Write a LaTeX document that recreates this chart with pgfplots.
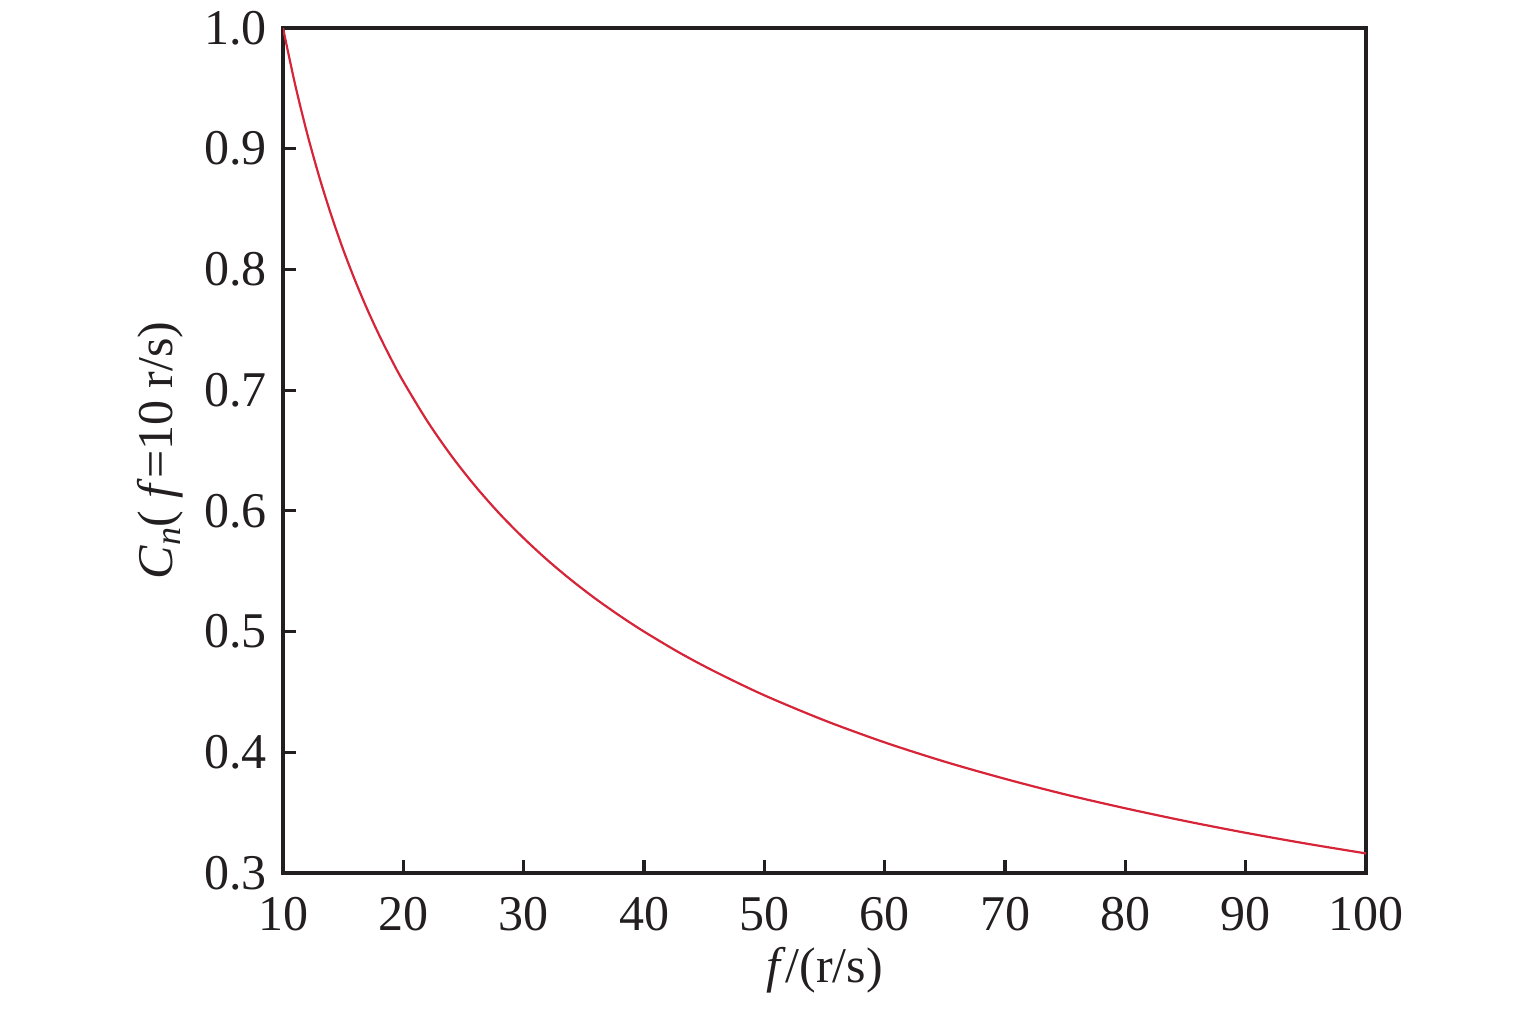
\documentclass[border=0pt]{standalone}
\usepackage{fontspec}
\setmainfont{Liberation Serif}
\usepackage{pgfplots}
\pgfplotsset{compat=1.18}
\definecolor{curvered}{RGB}{214,36,56}
\definecolor{axisgray}{RGB}{35,31,32}
\begin{document}
\begin{tikzpicture}
\begin{axis}[
  name=ax,
  scale only axis,
  width=270.75pt, height=211.25pt,
  xmin=10, xmax=100, ymin=0.3, ymax=1.0,
  xtick={10,20,...,100},
  ytick={0.3,0.4,...,1.0},
  yticklabel style={/pgf/number format/fixed, /pgf/number format/fixed zerofill, /pgf/number format/precision=1, xshift=-0.5pt},
  /pgf/number format/assume math mode=true,
  tick align=inside,
  xtick pos=bottom, ytick pos=left,
  major tick length=3.25pt,
  axis line style={line width=0.8pt, color=axisgray},
  every tick/.style={line width=0.8pt, color=axisgray},
  tick label style={font=\fontsize{12.5}{14}\selectfont, color=axisgray},
  label style={font=\fontsize{12.5}{14}\selectfont, color=axisgray},
  xticklabel style={yshift=-2.5pt},
  xlabel={\textit{f}/(r/s)},
  ylabel={\textit{C}\raisebox{-0.35ex}{\fontsize{9}{10}\selectfont\textit{n}}( \textit{f}=10 r/s)},
  xlabel style={at={(axis description cs:0.5,0)}, anchor=center, yshift=-24.25pt},
  ylabel style={at={(axis description cs:0,0.5)}, anchor=center, yshift=30.75pt},
]
\addplot[color=curvered, line width=0.55pt, smooth] coordinates {
(10,1.0000) (11,0.9535) (12,0.9129) (13,0.8771) (14,0.8452) (15,0.8165)
(16,0.7906) (17,0.7670) (18,0.7454) (19,0.7255) (20,0.7071) (22,0.6742)
(24,0.6455) (26,0.6202) (28,0.5976) (30,0.5774) (32,0.5590) (34,0.5423)
(36,0.5270) (38,0.5130) (40,0.5000) (43,0.4822) (46,0.4663) (50,0.4472)
(55,0.4264) (60,0.4082) (65,0.3922) (70,0.3780) (75,0.3651) (80,0.3536)
(85,0.3430) (90,0.3333) (95,0.3244) (100,0.3162)
};
\end{axis}
\pgfresetboundingbox
\path ([xshift=-70.75pt,yshift=-34.5pt]ax.south west) rectangle ([xshift=42.25pt,yshift=7pt]ax.north east);
\end{tikzpicture}
\end{document}
